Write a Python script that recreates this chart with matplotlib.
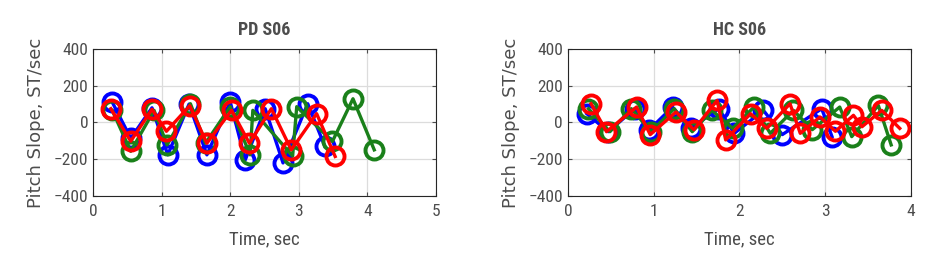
import numpy as np
import matplotlib
matplotlib.use("Agg")
import matplotlib.pyplot as plt
from matplotlib import font_manager

# PD S06 (left)
pd_blue_t = [0.28, 0.55, 0.86, 1.09, 1.40, 1.66, 2.00, 2.22, 2.51, 2.77, 3.13, 3.38]
pd_blue_v = [111, -86, 80, -176, 100, -176, 112, -203, 75, -220, 102, -130]
pd_green_t = [0.28, 0.55, 0.89, 1.08, 1.42, 1.64, 2.00, 2.29, 2.33, 2.91, 2.97, 3.49, 3.79, 4.10]
pd_green_v = [66, -157, 66, -122, 102, -113, 86, -176, 66, -183, 86, -103, 129, -149]
pd_red_t = [0.26, 0.55, 0.86, 1.07, 1.41, 1.66, 2.02, 2.28, 2.60, 2.89, 3.26, 3.53]
pd_red_v = [75, -102, 72, -48, 91, -113, 66, -113, 75, -149, 48, -185]

# HC S06 (right)
hc_blue_t = [0.22, 0.47, 0.78, 0.95, 1.22, 1.43, 1.76, 1.94, 2.28, 2.50, 2.96, 3.08]
hc_blue_v = [48, -50, 75, -39, 84, -32, 75, -59, 66, -66, 75, -77]
hc_green_t = [0.24, 0.49, 0.74, 0.97, 1.24, 1.45, 1.68, 1.92, 2.17, 2.36, 2.63, 2.85, 3.17, 3.31, 3.62, 3.77]
hc_green_v = [75, -50, 75, -50, 75, -50, 66, -32, 84, -59, 66, -39, 84, -77, 93, -122]
hc_red_t = [0.27, 0.45, 0.80, 0.96, 1.26, 1.47, 1.74, 1.84, 2.13, 2.32, 2.59, 2.71, 2.94, 3.12, 3.33, 3.43, 3.66, 3.87]
hc_red_v = [102, -50, 84, -66, 57, -39, 120, -95, 48, -32, 102, -59, 30, -48, 39, -23, 66, -32]

# condensed face if there is one
names = set(f.name for f in font_manager.fontManager.ttflist)
narrow_name = None
for n in ['Liberation Sans Narrow', 'Roboto Condensed', 'Open Sans Condensed', 'DejaVu Sans Condensed']:
    if n in names:
        narrow_name = n
        break
narrow = [narrow_name, 'DejaVu Sans'] if narrow_name else ['DejaVu Sans']
txt_col = '#4d4d4d'

fig = plt.figure(figsize=(9.31, 2.62), dpi=100)
ax1 = fig.add_axes([0.0999, 0.252, 0.3684, 0.561])
ax2 = fig.add_axes([0.610, 0.252, 0.3684, 0.561])


def draw(ax, series, title, xmax):
    for t, v, c in series:
        ax.plot(t, v, '-o', color=c, lw=2.4, ms=13, mew=2.8, mfc='none')
    ax.set_xlim(0, xmax)
    ax.set_ylim(-400, 400)
    ax.set_xticks(range(0, xmax + 1))
    ax.set_yticks([-400, -200, 0, 200, 400])
    ax.grid(True, color='#dcdcdc', lw=0.9)
    ax.set_axisbelow(True)
    for s in ax.spines.values():
        s.set_color('#262626')
        s.set_linewidth(0.8)
    ax.tick_params(direction='in', length=3, colors=txt_col, labelsize=12.5,
                   top=True, right=True, labeltop=False, labelright=False)
    ax.tick_params(axis='x', pad=6)
    for lab in ax.get_xticklabels() + ax.get_yticklabels():
        lab.set_family(narrow)
        lab.set_stretch('condensed')
    ax.set_title(title, fontsize=13, fontweight='bold', family=narrow, stretch='condensed',
                 color=txt_col, pad=10)
    ax.set_xlabel('Time, sec', fontsize=13.5, family=narrow, stretch='condensed',
                  color=txt_col, labelpad=8)
    ax.set_ylabel('Pitch Slope, ST/sec', fontsize=13, color=txt_col, labelpad=6)


draw(ax1, [(pd_blue_t, pd_blue_v, '#0000ff'),
           (pd_green_t, pd_green_v, '#1a801a'),
           (pd_red_t, pd_red_v, '#ff0000')], 'PD S06', 5)
draw(ax2, [(hc_blue_t, hc_blue_v, '#0000ff'),
           (hc_green_t, hc_green_v, '#1a801a'),
           (hc_red_t, hc_red_v, '#ff0000')], 'HC S06', 4)

fig.savefig('out.png', dpi=100)
